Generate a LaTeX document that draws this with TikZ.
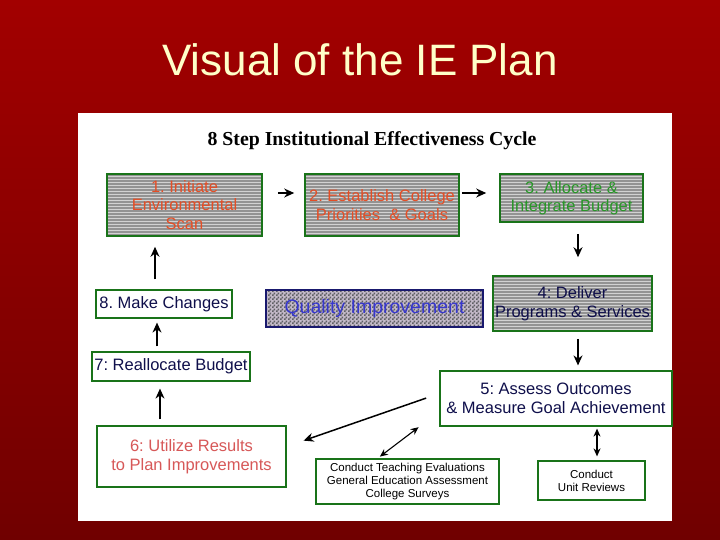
\documentclass[tikz,border=0pt]{standalone}
\usepackage{fontspec}
\setmainfont{Liberation Sans}
\newfontfamily\headfont{Liberation Serif}
\usetikzlibrary{arrows.meta,patterns}
\frenchspacing
\pgfdeclarepatternformonly{finecheck}{\pgfpointorigin}{\pgfqpoint{4pt}{4pt}}{\pgfqpoint{4pt}{4pt}}{%
  \pgfpathrectangle{\pgfpointorigin}{\pgfqpoint{2pt}{2pt}}%
  \pgfpathrectangle{\pgfqpoint{2pt}{2pt}}{\pgfqpoint{2pt}{2pt}}%
  \pgfusepath{fill}}
\definecolor{titleyellow}{RGB}{255,255,200}
\definecolor{boxgreen}{RGB}{25,115,25}
\definecolor{stepred}{RGB}{228,78,38}
\definecolor{stepgreen}{RGB}{40,150,40}
\definecolor{stepnavy}{RGB}{15,15,75}
\definecolor{utilred}{RGB}{215,88,88}
\definecolor{qiblue}{RGB}{55,55,205}
\definecolor{qiframe}{RGB}{25,25,110}
\definecolor{qilight}{RGB}{195,185,200}
\definecolor{qidark}{RGB}{95,95,100}
\definecolor{bgtop}{RGB}{162,0,0}
\definecolor{bgbottom}{RGB}{112,0,0}
\tikzset{
  sb/.style={draw=boxgreen, line width=1.6pt, align=center, inner sep=2pt,
             font=\fontsize{16.5}{18.5}\selectfont},
  sbg/.style={sb, preaction={fill=gray!85}, pattern=horizontal lines, pattern color=gray!35},
  sbw/.style={sb, fill=white, line width=1.2pt},
  sbs/.style={sbw, font=\fontsize{11.5}{12.8}\selectfont},
  ca/.style={-{Stealth[length=10pt,width=9pt]}, line width=1.5pt},
  cd/.style={{Stealth[length=8pt,width=7pt]}-{Stealth[length=8pt,width=7pt]}, line width=1.1pt}
}
\begin{document}
\begin{tikzpicture}[x=1pt, y=-1pt]
  % slide background and panel
  \shade[top color=bgtop, bottom color=bgbottom] (0,0) rectangle (720,540);
  \fill[white] (78,113) rectangle (672,521);
  \node[anchor=base, text=titleyellow, font=\fontsize{44}{48}\selectfont] (title) at (360,76) {Visual of the IE Plan};
  \node[font=\headfont\bfseries\fontsize{19.8}{22}\selectfont] (head) at (372,141) {8 Step Institutional Effectiveness Cycle};

  % cycle steps
  \node[sbg, text=stepred, minimum width=155, minimum height=62] (s1) at (184.5,205) {1. Initiate\\Environmental\\Scan};
  \node[sbg, text=stepred, minimum width=154, minimum height=62] (s2) at (382,205) {2. Establish College\\Priorities\ \ \& Goals};
  \node[sbg, text=stepgreen, minimum width=143, minimum height=48] (s3) at (571.5,198) {3. Allocate \&\\Integrate Budget};
  \node[sbg, text=stepnavy, minimum width=159, minimum height=55] (s4) at (572.5,303.5) {4: Deliver\\Programs \& Services};
  \node[sbw, text=stepnavy, minimum width=232, minimum height=55] (s5) at (556,398.5) {5: Assess Outcomes\\\& Measure Goal Achievement};
  \node[sbw, text=utilred, minimum width=189, minimum height=61] (s6) at (191.5,456.5) {6: Utilize Results\\to Plan Improvements};
  \node[sbw, text=stepnavy, minimum width=158, minimum height=29] (s7) at (171,366.5) {7: Reallocate Budget};
  \node[sbw, text=stepnavy, minimum width=136, minimum height=28] (s8) at (164,304) {8. Make Changes};

  \node[draw=qiframe, line width=2pt, preaction={fill=qilight}, pattern=finecheck, pattern color=qidark,
        text=qiblue, font=\fontsize{19.5}{22}\selectfont, minimum width=217, minimum height=37] (qi) at (374.5,308.5) {Quality Improvement};

  \node[sbs, minimum width=183, minimum height=45] (eval) at (407.5,481.5) {Conduct Teaching Evaluations\\General Education Assessment\\College Surveys};
  \node[sbs, minimum width=107, minimum height=39] (unit) at (591.5,480.5) {Conduct\\Unit Reviews};

  % connectors
  \draw[ca, shorten <=15pt, shorten >=10pt] ([yshift=12pt]s1.east) -- ([yshift=12pt]s1.east -| s2.west);
  \draw[ca, shorten <=2pt, shorten >=13pt] ([yshift=12pt]s2.east) -- ([yshift=12pt]s2.east -| s3.west);
  \draw[ca, shorten <=11pt, shorten >=18pt] ([xshift=6.5pt]s3.south) -- ([xshift=6.5pt]s3.south |- s4.north);
  \draw[ca, shorten <=7pt, shorten >=5pt] ([xshift=5.5pt]s4.south) -- ([xshift=5.5pt]s4.south |- s5.north);
  \draw[ca, shorten <=14pt, shorten >=18pt] ([yshift=5pt]s5.west) -- ([yshift=10pt]s6.east);
  \draw[ca, shorten <=6pt, shorten >=7pt] ([xshift=-31.5pt]s6.north) -- ([xshift=-31.5pt]s6.north |- s7.south);
  \draw[ca, shorten <=5pt, shorten >=4pt] ([xshift=-14pt]s7.north) -- ([xshift=-14pt]s7.north |- s8.south);
  \draw[ca, shorten <=10pt, shorten >=10pt] ([xshift=-9pt]s8.north) -- ([xshift=-9pt]s8.north |- s1.south);
  \draw[cd, shorten <=1pt, shorten >=3pt] ([xshift=-20pt]s5.south west) -- ([xshift=-30pt]eval.north);
  \draw[cd, line width=1.6pt, shorten <=2pt, shorten >=4pt] ([xshift=5.5pt]unit.north |- s5.south) -- ([xshift=5.5pt]unit.north);
\end{tikzpicture}
\end{document}
